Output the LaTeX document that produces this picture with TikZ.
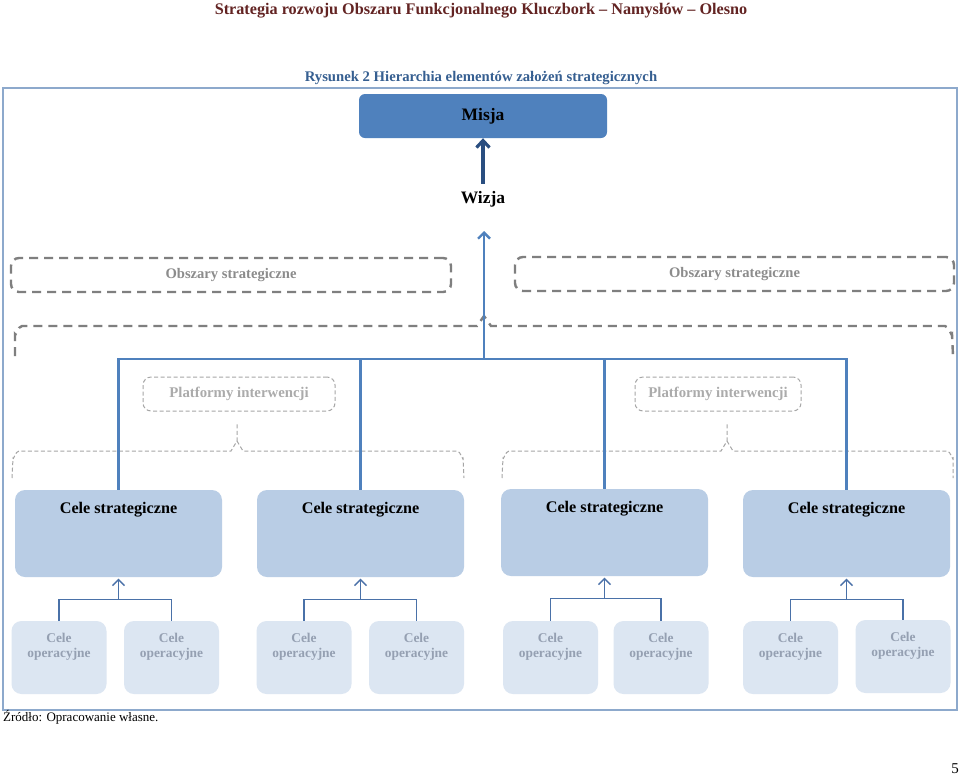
\documentclass[tikz,border=0pt]{standalone}
\usepackage{fontspec}
\setmainfont{Liberation Serif}
\usetikzlibrary{arrows.meta}
\definecolor{hdrred}{HTML}{632423}
\definecolor{capblue}{HTML}{365F91}
\definecolor{framec}{HTML}{8DA9CC}
\definecolor{misjac}{HTML}{4F81BD}
\definecolor{wizc}{HTML}{2A4E80}
\definecolor{bluel}{HTML}{4F81BD}
\definecolor{smallbl}{HTML}{4A71A8}
\definecolor{dashg}{HTML}{7F7F7F}
\definecolor{dashl}{HTML}{A6A6A6}
\definecolor{obtext}{HTML}{8C8C8C}
\definecolor{pltext}{HTML}{ABABAB}
\definecolor{csfill}{HTML}{B9CDE5}
\definecolor{cofill}{HTML}{DCE6F2}
\definecolor{cotext}{HTML}{95A0B2}
\tikzset{
  header/.style={font=\fontsize{16.2}{18}\selectfont\bfseries, text=hdrred, inner sep=0pt},
  caption/.style={font=\fontsize{14.7}{16}\selectfont\bfseries, text=capblue, inner sep=0pt},
  framebox/.style={draw=framec, line width=1.5pt, minimum width=954pt, minimum height=622pt, inner sep=0pt, outer sep=0pt},
  misjabox/.style={fill=misjac, rounded corners=6pt, minimum width=248pt, minimum height=44pt, inner sep=0pt, font=\fontsize{17.5}{19}\selectfont\bfseries},
  plaintxt/.style={font=\fontsize{17.5}{19}\selectfont\bfseries, inner sep=0pt},
  obszbox/.style={draw=dashg, line width=2.4pt, dash pattern=on 9pt off 6pt, rounded corners=8pt, minimum height=34pt, inner sep=0pt, text=obtext, font=\fontsize{14.6}{16}\selectfont\bfseries},
  platbox/.style={draw=dashl, line width=1pt, dash pattern=on 4pt off 2.5pt, rounded corners=8pt, minimum height=34pt, inner sep=0pt, text=pltext, font=\fontsize{14.8}{16}\selectfont\bfseries},
  bigbrace/.style={draw=dashg, line width=2.4pt, dash pattern=on 9pt off 6pt},
  smallbrace/.style={draw=dashl, line width=1pt, dash pattern=on 4pt off 2.5pt},
  csbox/.style={fill=csfill, rounded corners=10pt, minimum width=207pt, minimum height=87pt, inner sep=0pt},
  cstext/.style={font=\fontsize{16.2}{18}\selectfont\bfseries, inner sep=0pt},
  cobox/.style={fill=cofill, rounded corners=10pt, minimum width=95pt, minimum height=73pt, inner sep=0pt},
  cotxt/.style={font=\fontsize{13.4}{15}\selectfont\bfseries, text=cotext, align=center, inner sep=0pt},
  blueline/.style={draw=bluel, line width=2.4pt},
  bluearrow/.style={draw=bluel, line width=2.4pt, -{Straight Barb[length=6pt,width=12pt,line width=2.4pt]}},
  wizarrow/.style={draw=wizc, line width=3.2pt, -{Straight Barb[length=7pt,width=13pt,line width=3.2pt]}},
  smallline/.style={draw=smallbl, line width=1.4pt},
  smallarrow/.style={draw=smallbl, line width=1.4pt, -{Straight Barb[length=6pt,width=12pt,line width=1.4pt]}},
  srctxt/.style={font=\fontsize{13}{15}\selectfont, inner sep=0pt},
}
\begin{document}
\begin{tikzpicture}[x=1pt,y=-1pt]
\useasboundingbox (0,0) rectangle (960,777);
\fill[white] (0,0) rectangle (960,777);

\node[header] (hdr) at (481,11) {Strategia rozwoju Obszaru Funkcjonalnego Kluczbork – Namysłów – Olesno};
\node[caption] (cap) at (481,78) {Rysunek 2 Hierarchia elementów założeń strategicznych};
\node[framebox] (frame) at (480,399) {};

% Misja / Wizja
\node[misjabox] (misja) at (483,116) {Misja};
\node[plaintxt] (wizja) at (483,199) {Wizja};
\draw[wizarrow, shorten <=7pt] (wizja.north) -- (misja.south);

% Obszary strategiczne
\node[obszbox, minimum width=440pt] (ob1) at (231,275) {Obszary strategiczne};
\node[obszbox, minimum width=439pt] (ob2) at (734.5,274) {Obszary strategiczne};

% big brace
\draw[bigbrace] (15,356) -- (15,334) to[out=-90,in=180] (22,326) -- (477,326) -- (484,316) -- (491,326) -- (945,326) to[out=0,in=-90] (952,334) -- (953,356);

% Platformy
\node[platbox, minimum width=192pt] (pl1) at (239,394) {Platformy interwencji};
\node[platbox, minimum width=166pt] (pl2) at (718,394) {Platformy interwencji};

% small braces
\draw[smallbrace] (12,478) -- (13,458) to[out=-90,in=180] (19,451) -- (231,451) -- (237,441) -- (237,422);
\draw[smallbrace] (237,441) -- (243,451) -- (457,451) to[out=0,in=-90] (463,458) -- (464,478);
\draw[smallbrace] (502,478) -- (503,458) to[out=-90,in=180] (509,451) -- (721,451) -- (727,441) -- (727,422);
\draw[smallbrace] (727,441) -- (733,451) -- (947,451) to[out=0,in=-90] (953,458) -- (953,478);

% Cele strategiczne
\node[csbox] (cs1) at (118.5,533.5) {};
\node[csbox] (cs2) at (360.5,533.5) {};
\node[csbox] (cs3) at (604.5,532.5) {};
\node[csbox] (cs4) at (846.5,533.5) {};
\node[cstext] (cst1) at ([yshift=-20pt]cs1.north) {Cele strategiczne};
\node[cstext] (cst2) at ([yshift=-20pt]cs2.north) {Cele strategiczne};
\node[cstext] (cst3) at ([yshift=-20pt]cs3.north) {Cele strategiczne};
\node[cstext] (cst4) at ([yshift=-20pt]cs4.north) {Cele strategiczne};

% blue tree
\coordinate (hub) at (484,359);
\coordinate (vtip) at (484,231);
\draw[blueline] (cs1.north) -- (cs1.north |- hub) -- (cs4.north |- hub) -- (cs4.north);
\draw[blueline] (cs2.north) -- (cs2.north |- hub);
\draw[blueline] (cs3.north) -- (cs3.north |- hub);
\draw[bluearrow] (hub) -- (vtip);

% Cele operacyjne
\foreach \n/\x/\y in {11/59/657.5, 12/171.5/657.5, 21/304/657.5, 22/416.5/657.5, 31/550.5/657.5, 32/661/657.5, 41/790.5/657.5, 42/903/656.5}{
  \node[cobox] (co\n) at (\x,\y) {};
  \node[cotxt] (cot\n) at ([yshift=-26pt]co\n.north) {Cele\\operacyjne};
}

% small connectors
\foreach \g in {1,2,3,4}{
  \coordinate (g\g) at ([yshift=-22pt]cs\g.south);
  \draw[smallline] (co\g1.north) |- (g\g) -| (co\g2.north);
  \draw[smallarrow, shorten >=1.5pt] (g\g) -- (cs\g.south);
}

\node[srctxt, anchor=west] (src) at (3,717) {Źródło: Opracowanie własne.};
\node[srctxt, font=\fontsize{15}{17}\selectfont] (pg) at (955,769) {5};
\end{tikzpicture}
\end{document}
